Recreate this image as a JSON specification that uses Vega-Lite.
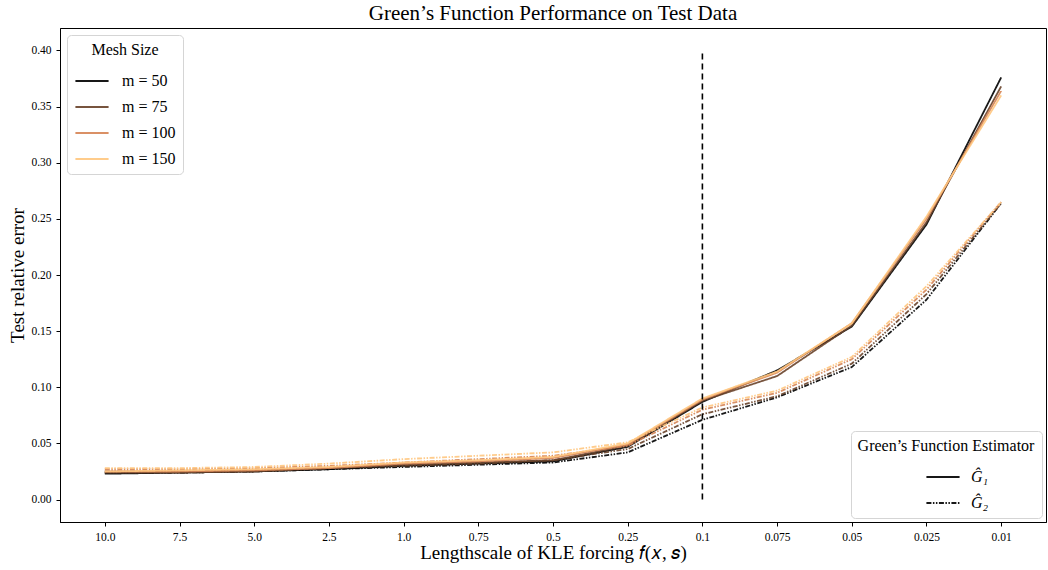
{
  "$schema": "https://vega.github.io/schema/vega-lite/v6.json",
  "autosize": {"type": "none"},
  "padding": {"left": 60, "top": 28, "right": 2, "bottom": 48},
  "width": 986,
  "height": 494,
  "title": {"text": "Green’s Function Performance on Test Data", "font": "Liberation Serif", "fontSize": 21, "fontWeight": "normal", "color": "black", "offset": 4, "anchor": "middle"},
  "config": {
    "view": {"stroke": "black", "strokeWidth": 1},
    "font": "Liberation Serif",
    "axis": {"grid": false, "domainColor": "black", "tickColor": "black", "labelColor": "black", "titleColor": "black", "labelFont": "Liberation Serif", "titleFont": "Liberation Serif", "labelFontSize": 11.5, "titleFontSize": 19, "titleFontWeight": "normal", "tickSize": 4, "labelPadding": 5},
    "legend": {"labelFont": "Liberation Serif", "titleFont": "Liberation Serif", "titleFontWeight": "normal", "titleColor": "black", "labelColor": "black", "fillColor": "white", "strokeColor": "#d5d5d5", "cornerRadius": 4, "padding": 7, "offset": 7, "titleAnchor": "middle", "symbolStrokeWidth": 2}
  },
  "layer": [
    {
      "data": {"values": [
        {"ls":"10.0","m":"m = 50","est":"Ĝ₁","err":0.023},{"ls":"7.5","m":"m = 50","est":"Ĝ₁","err":0.024},{"ls":"5.0","m":"m = 50","est":"Ĝ₁","err":0.025},{"ls":"2.5","m":"m = 50","est":"Ĝ₁","err":0.027},{"ls":"1.0","m":"m = 50","est":"Ĝ₁","err":0.030},{"ls":"0.75","m":"m = 50","est":"Ĝ₁","err":0.032},{"ls":"0.5","m":"m = 50","est":"Ĝ₁","err":0.034},{"ls":"0.25","m":"m = 50","est":"Ĝ₁","err":0.047},{"ls":"0.1","m":"m = 50","est":"Ĝ₁","err":0.087},{"ls":"0.075","m":"m = 50","est":"Ĝ₁","err":0.115},{"ls":"0.05","m":"m = 50","est":"Ĝ₁","err":0.154},{"ls":"0.025","m":"m = 50","est":"Ĝ₁","err":0.245},{"ls":"0.01","m":"m = 50","est":"Ĝ₁","err":0.376},
        {"ls":"10.0","m":"m = 50","est":"Ĝ₂","err":0.024},{"ls":"7.5","m":"m = 50","est":"Ĝ₂","err":0.024},{"ls":"5.0","m":"m = 50","est":"Ĝ₂","err":0.025},{"ls":"2.5","m":"m = 50","est":"Ĝ₂","err":0.027},{"ls":"1.0","m":"m = 50","est":"Ĝ₂","err":0.029},{"ls":"0.75","m":"m = 50","est":"Ĝ₂","err":0.031},{"ls":"0.5","m":"m = 50","est":"Ĝ₂","err":0.033},{"ls":"0.25","m":"m = 50","est":"Ĝ₂","err":0.042},{"ls":"0.1","m":"m = 50","est":"Ĝ₂","err":0.071},{"ls":"0.075","m":"m = 50","est":"Ĝ₂","err":0.091},{"ls":"0.05","m":"m = 50","est":"Ĝ₂","err":0.118},{"ls":"0.025","m":"m = 50","est":"Ĝ₂","err":0.178},{"ls":"0.01","m":"m = 50","est":"Ĝ₂","err":0.264},
        {"ls":"10.0","m":"m = 75","est":"Ĝ₁","err":0.024},{"ls":"7.5","m":"m = 75","est":"Ĝ₁","err":0.024},{"ls":"5.0","m":"m = 75","est":"Ĝ₁","err":0.025},{"ls":"2.5","m":"m = 75","est":"Ĝ₁","err":0.028},{"ls":"1.0","m":"m = 75","est":"Ĝ₁","err":0.031},{"ls":"0.75","m":"m = 75","est":"Ĝ₁","err":0.033},{"ls":"0.5","m":"m = 75","est":"Ĝ₁","err":0.035},{"ls":"0.25","m":"m = 75","est":"Ĝ₁","err":0.048},{"ls":"0.1","m":"m = 75","est":"Ĝ₁","err":0.088},{"ls":"0.075","m":"m = 75","est":"Ĝ₁","err":0.110},{"ls":"0.05","m":"m = 75","est":"Ĝ₁","err":0.155},{"ls":"0.025","m":"m = 75","est":"Ĝ₁","err":0.247},{"ls":"0.01","m":"m = 75","est":"Ĝ₁","err":0.368},
        {"ls":"10.0","m":"m = 75","est":"Ĝ₂","err":0.025},{"ls":"7.5","m":"m = 75","est":"Ĝ₂","err":0.025},{"ls":"5.0","m":"m = 75","est":"Ĝ₂","err":0.026},{"ls":"2.5","m":"m = 75","est":"Ĝ₂","err":0.028},{"ls":"1.0","m":"m = 75","est":"Ĝ₂","err":0.030},{"ls":"0.75","m":"m = 75","est":"Ĝ₂","err":0.032},{"ls":"0.5","m":"m = 75","est":"Ĝ₂","err":0.035},{"ls":"0.25","m":"m = 75","est":"Ĝ₂","err":0.045},{"ls":"0.1","m":"m = 75","est":"Ĝ₂","err":0.076},{"ls":"0.075","m":"m = 75","est":"Ĝ₂","err":0.092},{"ls":"0.05","m":"m = 75","est":"Ĝ₂","err":0.121},{"ls":"0.025","m":"m = 75","est":"Ĝ₂","err":0.183},{"ls":"0.01","m":"m = 75","est":"Ĝ₂","err":0.264},
        {"ls":"10.0","m":"m = 100","est":"Ĝ₁","err":0.025},{"ls":"7.5","m":"m = 100","est":"Ĝ₁","err":0.025},{"ls":"5.0","m":"m = 100","est":"Ĝ₁","err":0.026},{"ls":"2.5","m":"m = 100","est":"Ĝ₁","err":0.028},{"ls":"1.0","m":"m = 100","est":"Ĝ₁","err":0.032},{"ls":"0.75","m":"m = 100","est":"Ĝ₁","err":0.034},{"ls":"0.5","m":"m = 100","est":"Ĝ₁","err":0.037},{"ls":"0.25","m":"m = 100","est":"Ĝ₁","err":0.049},{"ls":"0.1","m":"m = 100","est":"Ĝ₁","err":0.089},{"ls":"0.075","m":"m = 100","est":"Ĝ₁","err":0.113},{"ls":"0.05","m":"m = 100","est":"Ĝ₁","err":0.157},{"ls":"0.025","m":"m = 100","est":"Ĝ₁","err":0.250},{"ls":"0.01","m":"m = 100","est":"Ĝ₁","err":0.364},
        {"ls":"10.0","m":"m = 100","est":"Ĝ₂","err":0.027},{"ls":"7.5","m":"m = 100","est":"Ĝ₂","err":0.027},{"ls":"5.0","m":"m = 100","est":"Ĝ₂","err":0.028},{"ls":"2.5","m":"m = 100","est":"Ĝ₂","err":0.030},{"ls":"1.0","m":"m = 100","est":"Ĝ₂","err":0.033},{"ls":"0.75","m":"m = 100","est":"Ĝ₂","err":0.036},{"ls":"0.5","m":"m = 100","est":"Ĝ₂","err":0.039},{"ls":"0.25","m":"m = 100","est":"Ĝ₂","err":0.048},{"ls":"0.1","m":"m = 100","est":"Ĝ₂","err":0.080},{"ls":"0.075","m":"m = 100","est":"Ĝ₂","err":0.095},{"ls":"0.05","m":"m = 100","est":"Ĝ₂","err":0.125},{"ls":"0.025","m":"m = 100","est":"Ĝ₂","err":0.187},{"ls":"0.01","m":"m = 100","est":"Ĝ₂","err":0.265},
        {"ls":"10.0","m":"m = 150","est":"Ĝ₁","err":0.025},{"ls":"7.5","m":"m = 150","est":"Ĝ₁","err":0.026},{"ls":"5.0","m":"m = 150","est":"Ĝ₁","err":0.027},{"ls":"2.5","m":"m = 150","est":"Ĝ₁","err":0.029},{"ls":"1.0","m":"m = 150","est":"Ĝ₁","err":0.033},{"ls":"0.75","m":"m = 150","est":"Ĝ₁","err":0.035},{"ls":"0.5","m":"m = 150","est":"Ĝ₁","err":0.038},{"ls":"0.25","m":"m = 150","est":"Ĝ₁","err":0.050},{"ls":"0.1","m":"m = 150","est":"Ĝ₁","err":0.090},{"ls":"0.075","m":"m = 150","est":"Ĝ₁","err":0.114},{"ls":"0.05","m":"m = 150","est":"Ĝ₁","err":0.157},{"ls":"0.025","m":"m = 150","est":"Ĝ₁","err":0.252},{"ls":"0.01","m":"m = 150","est":"Ĝ₁","err":0.360},
        {"ls":"10.0","m":"m = 150","est":"Ĝ₂","err":0.028},{"ls":"7.5","m":"m = 150","est":"Ĝ₂","err":0.028},{"ls":"5.0","m":"m = 150","est":"Ĝ₂","err":0.029},{"ls":"2.5","m":"m = 150","est":"Ĝ₂","err":0.032},{"ls":"1.0","m":"m = 150","est":"Ĝ₂","err":0.036},{"ls":"0.75","m":"m = 150","est":"Ĝ₂","err":0.039},{"ls":"0.5","m":"m = 150","est":"Ĝ₂","err":0.042},{"ls":"0.25","m":"m = 150","est":"Ĝ₂","err":0.051},{"ls":"0.1","m":"m = 150","est":"Ĝ₂","err":0.082},{"ls":"0.075","m":"m = 150","est":"Ĝ₂","err":0.097},{"ls":"0.05","m":"m = 150","est":"Ĝ₂","err":0.127},{"ls":"0.025","m":"m = 150","est":"Ĝ₂","err":0.190},{"ls":"0.01","m":"m = 150","est":"Ĝ₂","err":0.265}
      ]},
      "mark": {"type": "line", "strokeWidth": 1.8, "opacity": 0.9},
      "encoding": {
        "x": {"field": "ls", "type": "ordinal", "scale": {"type": "point", "padding": 0.6, "domain": ["10.0","7.5","5.0","2.5","1.0","0.75","0.5","0.25","0.1","0.075","0.05","0.025","0.01"]}, "axis": {"title": "Lengthscale of KLE forcing 𝑓(𝑥, 𝑠)", "labelAngle": 0, "titlePadding": 1}},
        "y": {"field": "err", "type": "quantitative", "scale": {"domain": [-0.02, 0.42], "nice": false, "zero": false}, "axis": {"title": "Test relative error", "values": [0,0.05,0.1,0.15,0.2,0.25,0.3,0.35,0.4], "format": ".2f", "titlePadding": 3}},
        "color": {"field": "m", "type": "nominal", "scale": {"domain": ["m = 50","m = 75","m = 100","m = 150"], "range": ["#000000","#69422a","#d68555","#ffc77f"]}, "legend": {"title": "Mesh Size", "orient": "top-left", "labelFontSize": 16, "titleFontSize": 16, "symbolSize": 1100, "rowPadding": -11.5, "labelOffset": 12, "symbolStrokeWidth": 2}},
        "strokeDash": {"field": "est", "type": "nominal", "scale": {"domain": ["Ĝ₁","Ĝ₂"], "range": [[1,0],[5,1.5,1.5,1.5,1.5,1.5]]}, "legend": {"title": "Green’s Function Estimator", "orient": "bottom-right", "symbolStrokeColor": "black", "labelFontStyle": "italic", "labelFontSize": 16, "titleFontSize": 16, "symbolSize": 1100, "rowPadding": -11.5, "labelOffset": 10, "symbolOffset": 22, "offset": 4}}
      }
    },
    {
      "data": {"values": [{"ls": "0.1", "lo": 0, "hi": 0.4}]},
      "mark": {"type": "rule", "color": "black", "strokeDash": [6, 4], "strokeWidth": 1.6},
      "encoding": {
        "x": {"field": "ls", "type": "ordinal"},
        "y": {"field": "lo", "type": "quantitative"},
        "y2": {"field": "hi"}
      }
    }
  ]
}
